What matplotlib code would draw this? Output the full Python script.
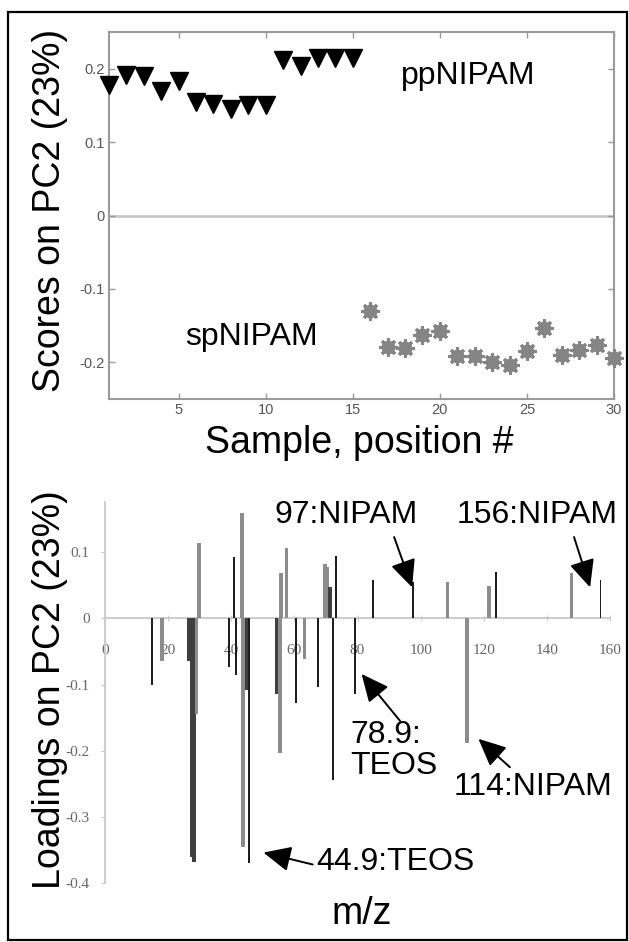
import matplotlib

matplotlib.use("Agg")
import matplotlib.pyplot as plt
from matplotlib.patches import Rectangle

plt.rcParams["font.family"] = ["Liberation Sans", "DejaVu Sans"]

W, H = 629, 942

# --- scores on PC2 (top panel) ---
pp_pos = list(range(1, 16))
pp_scores = [0.178, 0.192, 0.19, 0.17, 0.183, 0.155, 0.152, 0.145, 0.15, 0.15,
             0.212, 0.203, 0.215, 0.215, 0.215]
sp_pos = list(range(16, 31))
sp_scores = [-0.13, -0.179, -0.18, -0.163, -0.158, -0.191, -0.191, -0.2, -0.203,
             -0.184, -0.153, -0.19, -0.183, -0.177, -0.194]

# --- loadings on PC2 (bottom panel): m/z, loading, shade ---
mz = [15, 18, 26.7, 27.5, 28.2, 29.0, 29.8, 39.4, 41.0, 41.6, 43.3, 43.6, 44.9, 45.5,
      54.5, 55.5, 55.8, 57.5, 60.4, 63.2, 67.4, 69.6, 70.4, 71.3, 72.3, 73.2, 79.2,
      84.8, 97.5, 108.5, 114.7, 121.7, 123.8, 147.8, 157.0]
loading = [-0.100, -0.065, -0.065, -0.360, -0.368, -0.145, 0.114, -0.074, 0.093, -0.086,
           0.160, -0.345, -0.108, -0.370, -0.114, -0.203, 0.068, 0.106, -0.128, -0.061,
           -0.103, 0.083, 0.078, 0.047, -0.245, 0.094, -0.114, 0.058, 0.055, 0.055,
           -0.189, 0.049, 0.070, 0.068, 0.058]
shade = ["k", "g", "d", "d", "d", "g", "g", "k", "k", "k", "g", "g", "d", "k",
         "d", "g", "g", "g", "k", "g", "k", "g", "g", "d", "k", "k", "k",
         "k", "k", "g", "g", "g", "k", "g", "k"]

colors = {"k": "#1e1e1e", "d": "#3f3f3f", "g": "#8c8c8c"}
widths = {"k": 0.6, "d": 1.3, "g": 1.2}


def fig_rect(left, top, right, bottom):
    return [left / W, 1 - bottom / H, (right - left) / W, (bottom - top) / H]


fig = plt.figure(figsize=(W / 100, H / 100), dpi=100)

# ---------------- top: scores ----------------
ax1 = fig.add_axes(fig_rect(109, 32, 614, 399))
ax1.axhline(0, color="#c8c8c8", lw=2, zorder=1)
ax1.plot(pp_pos, pp_scores, "v", color="black", ms=13.5, clip_on=False, zorder=3)
ax1.plot(sp_pos, sp_scores, "o", color="#858585", ms=9, clip_on=False, zorder=3)
ax1.plot(sp_pos, sp_scores, marker=(8, 2, 0), ls="none", color="#858585", ms=13,
         mew=2.2, clip_on=False, zorder=3)
ax1.set_xlim(1, 30)
ax1.set_ylim(-0.25, 0.25)
ax1.set_xticks([5, 10, 15, 20, 25, 30])
ax1.set_yticks([-0.2, -0.1, 0, 0.1, 0.2])
ax1.set_yticklabels(["-0.2", "-0.1", "0", "0.1", "0.2"])
for s in ax1.spines.values():
    s.set_color("#9a9a9a")
    s.set_linewidth(1.5)
ax1.tick_params(direction="in", length=4, width=1, color="#9a9a9a", labelcolor="#555555",
                labelsize=10.5, top=True, right=True, pad=3)
ax1.text(21.6, 0.19, "ppNIPAM", fontsize=23, ha="center", va="center")
ax1.text(9.2, -0.165, "spNIPAM", fontsize=23, ha="center", va="center")
fig.text(50 / W, 1 - 210 / H, "Scores on PC2 (23%)", rotation=90, fontsize=27,
         ha="center", va="center")
fig.text(359 / W, 1 - 443 / H, "Sample, position #", fontsize=27, ha="center", va="center")

# ---------------- bottom: loadings ----------------
ax2 = fig.add_axes(fig_rect(105, 502, 610, 883))
for x, v, s in zip(mz, loading, shade):
    ax2.bar(x, v, width=widths[s], color=colors[s], zorder=2)
ax2.set_xlim(0, 160)
ax2.set_ylim(-0.4, 0.176)
ax2.spines["top"].set_visible(False)
ax2.spines["right"].set_visible(False)
ax2.spines["bottom"].set_position(("data", 0))
ax2.spines["bottom"].set_zorder(1)
for s in ("left", "bottom"):
    ax2.spines[s].set_color("#c8c8c8")
    ax2.spines[s].set_linewidth(1.3)
ax2.set_xticks(range(0, 161, 20))
ax2.set_yticks([-0.4, -0.3, -0.2, -0.1, 0, 0.1])
ax2.set_yticklabels(["-0.4", "-0.3", "-0.2", "-0.1", "0", "0.1"])
ax2.tick_params(axis="x", direction="inout", length=5, color="#c8c8c8", pad=16)
ax2.tick_params(axis="y", direction="out", length=3, color="#c8c8c8", pad=8)
for lab in ax2.get_xticklabels() + ax2.get_yticklabels():
    lab.set_family(["Liberation Serif", "DejaVu Serif"])
    lab.set_fontsize(11)
    lab.set_color("#666666")

# filled heads, drawn larger than default like the original callouts
arrow = dict(arrowstyle="-|>,head_length=0.65,head_width=0.3", mutation_scale=26,
             lw=1.4, color="black", shrinkA=0, shrinkB=0)
ax2.text(76.4, 0.156, "97:NIPAM", fontsize=23, ha="center", va="center")
ax2.annotate("", xy=(97.3, 0.047), xytext=(91.6, 0.123), arrowprops=arrow)
ax2.text(136.9, 0.156, "156:NIPAM", fontsize=23, ha="center", va="center")
ax2.annotate("", xy=(153.7, 0.047), xytext=(148.6, 0.123), arrowprops=arrow)
ax2.text(77.6, -0.2, "78.9:\nTEOS", fontsize=23, ha="left", va="center", linespacing=1.05)
ax2.annotate("", xy=(81.3, -0.084), xytext=(93.5, -0.155), arrowprops=arrow)
ax2.text(135.5, -0.255, "114:NIPAM", fontsize=23, ha="center", va="center")
ax2.annotate("", xy=(118.3, -0.182), xytext=(128.3, -0.225), arrowprops=arrow)
ax2.text(67.0, -0.369, "44.9:TEOS", fontsize=23, ha="left", va="center")
ax2.annotate("", xy=(50.2, -0.354), xytext=(65.8, -0.372), arrowprops=arrow)

fig.text(50 / W, 1 - 690 / H, "Loadings on PC2 (23%)", rotation=90, fontsize=27,
         ha="center", va="center")
fig.text(362 / W, 1 - 914 / H, "m/z", fontsize=27, ha="center", va="center")

# outer frame
fig.add_artist(Rectangle((8 / W, 2 / H), 619 / W, 928 / H, transform=fig.transFigure,
                         fill=False, lw=1.6, ec="black"))

fig.savefig("out.png", dpi=100, facecolor="white")
